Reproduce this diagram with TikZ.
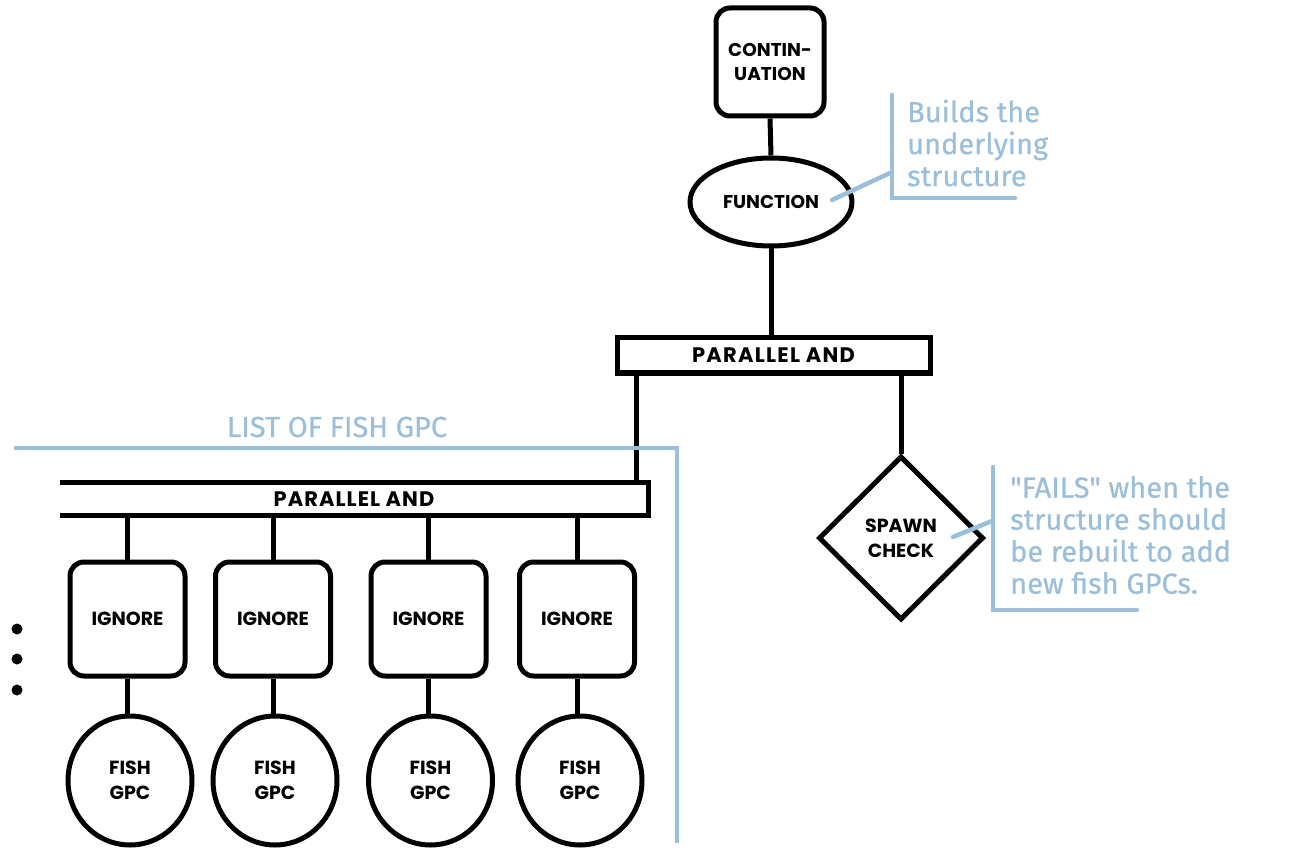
\documentclass[tikz,border=0pt]{standalone}
\usepackage{fontspec}
\setmainfont{Poppins}
\newfontfamily\hand{Fira Sans}[FakeBold=0.6]
\usetikzlibrary{shapes.geometric}
\definecolor{ann}{HTML}{9BBFDB}
\tikzset{
  blk/.style={draw=black, line width=5pt, inner sep=0pt, align=center, font=\bfseries\fontsize{18.5}{24}\selectfont},
  rbox/.style={blk, rounded corners=14pt, rectangle},
  conn/.style={draw=black, line width=5pt},
  annline/.style={draw=ann, line width=4.5pt, line cap=round},
  anntext/.style={text=ann, align=left, anchor=west, inner sep=0pt, font=\hand\fontsize{29}{32}\selectfont}
}
\begin{document}
\begin{tikzpicture}[x=1pt,y=-1pt]
\useasboundingbox (0,0) rectangle (1298,866);
% top
\node[rbox, minimum width=108pt, minimum height=108pt] (cont) at (770,62) {CONTIN-\\UATION};
\node[blk, ellipse, minimum width=162pt, minimum height=88pt] (func) at (771,202) {FUNCTION};
\node[blk, rectangle, minimum width=313pt, minimum height=35pt, font=\bfseries\fontsize{21}{22}\selectfont\addfontfeature{LetterSpace=6}] (pand1) at (773.5,355.5) {PARALLEL AND};
\node[blk, diamond, minimum width=165pt, minimum height=164pt, font=\bfseries\fontsize{19}{25}\selectfont] (spawn) at (901,538) {SPAWN\\CHECK};
\draw[conn] (cont.south) -- (func.north);
\draw[conn] (func.south) -- (func.south |- pand1.north);
\coordinate (lx) at (636,0);
\draw[conn] (spawn.north |- pand1.south) -- (spawn.north);
% lower parallel and
\node[inner sep=0pt, minimum width=588pt, minimum height=32pt, font=\bfseries\fontsize{21}{22}\selectfont\addfontfeature{LetterSpace=5}] (pand2) at (354,499) {PARALLEL AND};
\draw[conn] (pand2.north west) -- (pand2.north east) -- (pand2.south east) -- (pand2.south west);
\draw[conn] (pand1.south -| lx) -- (pand2.north -| lx);
% ignore boxes and fish
\foreach \i/\xi/\xf in {1/127.5/130, 2/273/275, 3/428.5/430.5, 4/577/580}{
  \node[rbox, minimum width=115pt, minimum height=114pt, font=\bfseries\fontsize{19}{24}\selectfont] (ign\i) at (\xi,619) {IGNORE};
  \node[blk, ellipse, minimum width=124pt, minimum height=129pt, font=\bfseries\fontsize{19}{25}\selectfont] (fish\i) at (\xf,780.5) {FISH\\GPC};
  \draw[conn] (ign\i.north |- pand2.south) -- (ign\i.north);
  \draw[conn] (ign\i.south) -- (ign\i.south |- fish\i.north);
}
\foreach \y in {629,659,690}{\fill[black] (17,\y) circle (5.5pt);}
% blue annotations
\node[anntext, anchor=center] (list) at (337,427) {LIST OF FISH GPC};
\coordinate (l1) at (14,448);
\coordinate (l2) at (677,448);
\coordinate (l3) at (677,843);
\draw[annline, line cap=butt] (l1) -- (l2) -- (l3);
\node[anntext] (a1) at (907,143) {Builds the\\underlying\\structure};
\coordinate (b1) at (892,95);
\coordinate (b2) at (892,198);
\coordinate (b3) at (1015,198);
\coordinate (p1) at (832,200);
\coordinate (p2) at (890,173);
\draw[annline] (b1) -- (b2) -- (b3);
\draw[annline] (p1) -- (p2);
\node[anntext] (a2) at (1010,535) {"FAILS" when the\\structure should\\be rebuilt to add\\new fish GPCs.};
\coordinate (c1) at (993,467);
\coordinate (c2) at (993,610);
\coordinate (c3) at (1137,610);
\coordinate (q1) at (953,537);
\coordinate (q2) at (992,521);
\draw[annline] (c1) -- (c2) -- (c3);
\draw[annline] (q1) -- (q2);
\end{tikzpicture}
\end{document}
